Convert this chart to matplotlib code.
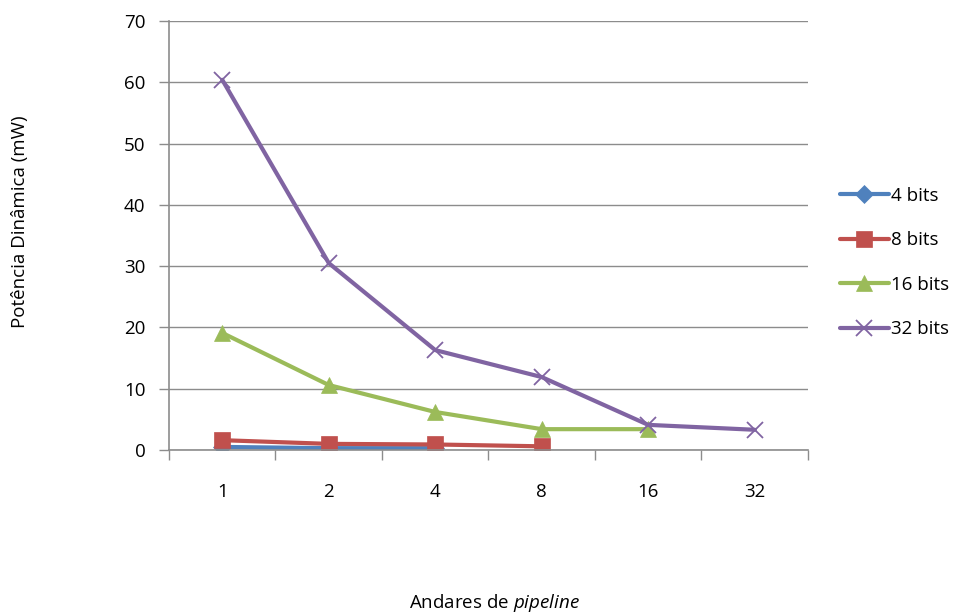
import numpy as np
import matplotlib.pyplot as plt

plt.rcParams['font.family'] = ['Open Sans', 'DejaVu Sans']
plt.rcParams['mathtext.fontset'] = 'custom'
plt.rcParams['mathtext.it'] = 'Open Sans:italic'
plt.rcParams['mathtext.rm'] = 'Open Sans'

# andares de pipeline (eixo de categorias)
stages = ["1", "2", "4", "8", "16", "32"]

bits4 = [0.5, 0.3, 0.3]
bits8 = [1.6, 1.0, 0.9, 0.6]
bits16 = [19.1, 10.6, 6.2, 3.4, 3.4]
bits32 = [60.4, 30.5, 16.3, 11.9, 4.1, 3.3]

series = [
    ("4 bits", bits4, "#4F81BD", "D", 9),
    ("8 bits", bits8, "#C0504D", "s", 12),
    ("16 bits", bits16, "#9BBB59", "^", 12),
    ("32 bits", bits32, "#8064A2", "x", 12),
]

fig = plt.figure(figsize=(9.63, 6.15), dpi=100)
ax = fig.add_axes([0.1755, 0.2683, 0.6635, 0.6976])

x = np.arange(len(stages))
for label, vals, color, marker, ms in series:
    ax.plot(x[:len(vals)], vals, color=color, lw=3, marker=marker, ms=ms,
            mew=1.3 if marker == "x" else 0.5, mec=color, label=label,
            solid_capstyle="round")

ax.set_xlim(-0.5, len(stages) - 0.5)
ax.set_ylim(0, 70)
ax.set_yticks(np.arange(0, 71, 10))
ax.yaxis.grid(True, color="#8c8c8c", lw=1)
ax.set_axisbelow(True)

# ticks nas fronteiras das categorias, rótulos no centro
ax.set_xticks(np.arange(-0.5, len(stages), 1.0))
ax.set_xticklabels([])
ax.set_xticks(x, minor=True)
ax.set_xticklabels(stages, minor=True)
ax.tick_params(axis="x", which="major", length=7, color="#8c8c8c", width=1)
ax.tick_params(axis="x", which="minor", length=0, pad=24, labelsize=13.5)
ax.tick_params(axis="y", length=7, color="#8c8c8c", width=1, pad=10, labelsize=13.5)

for side in ("top", "right"):
    ax.spines[side].set_visible(False)
for side in ("left", "bottom"):
    ax.spines[side].set_color("#8c8c8c")
    ax.spines[side].set_linewidth(1.2)

fig.text(20 / 963, 1 - 222 / 615, "Potência Dinâmica (mW)", rotation=90,
         ha="center", va="center", fontsize=13.5)
fig.text(494 / 963, 1 - 603 / 615, r"Andares de $\mathit{pipeline}$",
         ha="center", va="center", fontsize=13.5)

ax.legend(loc="center left", bbox_to_anchor=(1.05, 0.437), frameon=False,
          fontsize=13.5, handlelength=2.6, handletextpad=0.15,
          labelspacing=1.42, borderaxespad=0, borderpad=0)

fig.savefig("out.png", dpi=100)
